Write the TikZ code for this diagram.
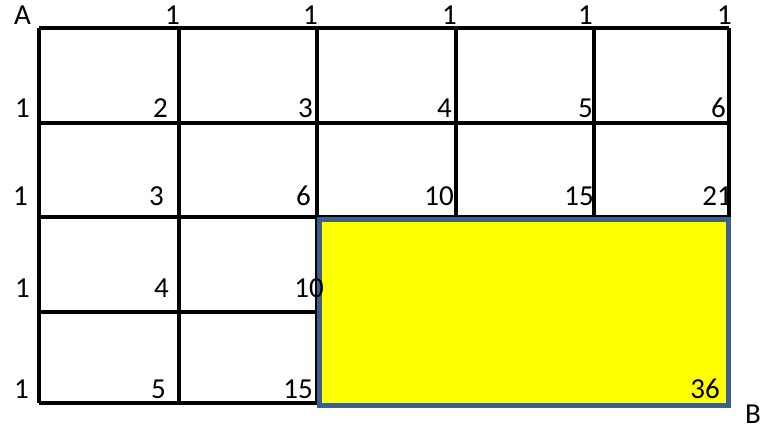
\documentclass[tikz,border=0pt]{standalone}
\usepackage{fontspec}
\setmainfont{Carlito}
\definecolor{boxblue}{RGB}{60,94,140}
\definecolor{boxyellow}{RGB}{255,255,0}
\begin{document}
\begin{tikzpicture}[x=1pt,y=-1pt,
  lbl/.style={anchor=base east,inner sep=0pt,font=\fontsize{29}{29}\selectfont},
  lblw/.style={anchor=base west,inner sep=0pt,font=\fontsize{29}{29}\selectfont},
  vline/.style={line width=4.6pt,black},
  hline/.style={line width=3.2pt,black},
  goal/.style={draw=boxblue,line width=5pt,fill=boxyellow}]
\useasboundingbox (0,0) rectangle (763,430);
% grid coordinates
\foreach \c/\xx in {0/39,1/179,2/317,3/456,4/594,5/729}{
  \foreach \r/\yy in {0/28,1/123,2/217,3/312,4/403}{
    \coordinate (g\c-\r) at (\xx,\yy);
  }
}
% vertical lines
\foreach \c in {0,...,5}{\draw[vline] (g\c-0) -- (g\c-4);}
% horizontal lines
\foreach \r in {0,...,4}{\draw[hline] (g0-\r) -- (g5-\r);}
% highlighted region
\coordinate (ytl) at (319.5,219.5);
\coordinate (ybr) at (728.5,405.5);
\draw[goal] (ytl) rectangle (ybr);
% labels row 0
\node[lbl] (A) at (31,25) {A};
\node[lbl] (r0c1) at (180,25) {1};
\node[lbl] (r0c2) at (318,25) {1};
\node[lbl] (r0c3) at (457,25) {1};
\node[lbl] (r0c4) at (593,25) {1};
\node[lbl] (r0c5) at (732,25) {1};
% row 1
\node[lbl] (r1c0) at (30,118) {1};
\node[lbl] (r1c1) at (168,118) {2};
\node[lbl] (r1c2) at (313,118) {3};
\node[lbl] (r1c3) at (452,118) {4};
\node[lbl] (r1c4) at (593,118) {5};
\node[lbl] (r1c5) at (726,118) {6};
% row 2
\node[lbl] (r2c0) at (28,206) {1};
\node[lbl] (r2c1) at (164,206) {3};
\node[lbl] (r2c2) at (311,206) {6};
\node[lbl] (r2c3) at (454,206) {10};
\node[lbl] (r2c4) at (594,206) {15};
\node[lbl] (r2c5) at (732,206) {21};
% row 3
\node[lbl] (r3c0) at (30,298) {1};
\node[lbl] (r3c1) at (169,298) {4};
\node[lbl] (r3c2) at (324,298) {10};
% row 4
\node[lbl] (r4c0) at (29,398) {1};
\node[lbl] (r4c1) at (166,398) {5};
\node[lbl] (r4c2) at (313,398) {15};
\node[lbl] (r4c5) at (720,398) {36};
\node[lblw] (B) at (745,423) {B};
\end{tikzpicture}
\end{document}
